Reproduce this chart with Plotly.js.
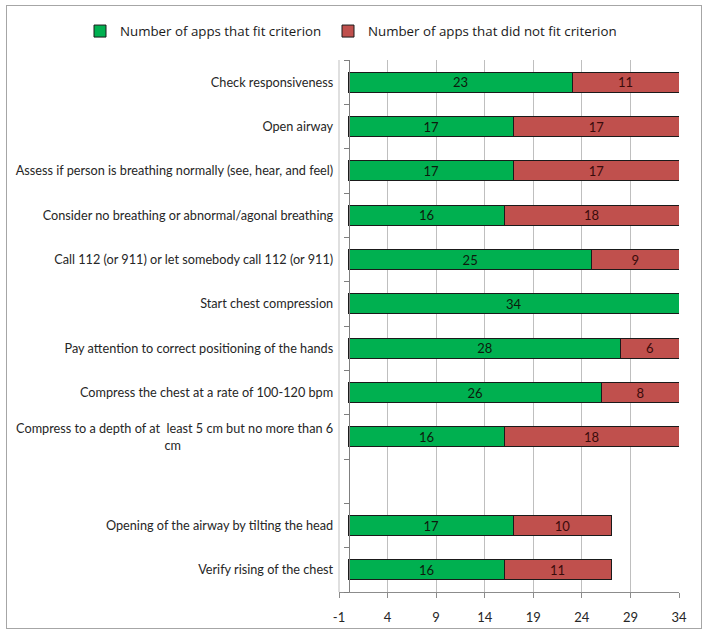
<!DOCTYPE html>
<html>
<head>
<meta charset="utf-8">
<script src="https://cdn.plot.ly/plotly-3.0.1.min.js"></script>
<style>
  html, body { margin: 0; padding: 0; background: #fff; }
  #wrap { position: relative; width: 710px; height: 641px; }
  #chart { width: 710px; height: 641px; }
  #frame { position: absolute; left: 6px; top: 5px; width: 696px; height: 624px;
           border: 1px solid #a6a6a6; pointer-events: none; box-sizing: border-box; }
</style>
</head>
<body>
<div id="wrap">
  <div id="chart"></div>
  <div id="frame"></div>
</div>
<script>
const pad = "\u2002".repeat(24);
const categories = [
  "Check responsiveness",
  "Open airway",
  "Assess if person is breathing normally (see, hear, and feel)",
  "Consider no breathing or abnormal/agonal breathing",
  "Call 112 (or 911) or let somebody call 112 (or 911)",
  "Start chest compression",
  "Pay attention to correct positioning of the hands",
  "Compress the chest at a rate of 100-120 bpm",
  "Compress to a depth of at  least 5 cm but no more than 6<br>cm" + pad,
  " ",
  "Opening of the airway by tilting the head",
  "Verify rising of the chest"
];
const fitValues    = [23, 17, 17, 16, 25, 34, 28, 26, 16, null, 17, 16];
const notFitValues = [11, 17, 17, 18, 9, null, 6, 8, 18, null, 10, 11];
const xTicks = [-1, 4, 9, 14, 19, 24, 29, 34];
const xRange = [-1, 34];
const seriesNames = ["Number of apps that fit criterion", "Number of apps that did not fit criterion"];

const fontFam = "Lato, 'Open Sans', sans-serif";
const legFam = "'Open Sans', Lato, sans-serif";

// category boundaries (for Excel-like ticks between categories)
const n = categories.length;
const boundaries = Array.from({ length: n + 1 }, (_, i) => i - 0.5);
const axisPos = (0 - xRange[0]) / (xRange[1] - xRange[0]);

const traces = [
  {
    type: "bar", orientation: "h", name: seriesNames[0], legend: "legend",
    y: categories, x: fitValues,
    marker: { color: "#00b050", line: { color: "#1a1a1a", width: 1 } },
    text: fitValues.map(v => v == null ? "" : String(v)),
    textposition: "inside", insidetextanchor: "middle", textangle: 0,
    constraintext: "none",
    textfont: { family: fontFam, size: 13, color: "#0d1a0d" }
  },
  {
    type: "bar", orientation: "h", name: seriesNames[1], legend: "legend2",
    y: categories, x: notFitValues,
    marker: { color: "#c0504d", line: { color: "#1a1a1a", width: 1 } },
    text: notFitValues.map(v => v == null ? "" : String(v)),
    textposition: "inside", insidetextanchor: "middle", textangle: 0,
    constraintext: "none",
    textfont: { family: fontFam, size: 13, color: "#3a0b0b" }
  }
];

const legendBase = {
  orientation: "h", xref: "container", yref: "container",
  xanchor: "left", y: 0.951, yanchor: "middle",
  font: { family: legFam, size: 13.3, color: "#1a1a1a" },
  itemwidth: 30, bgcolor: "rgba(0,0,0,0)"
};

const layout = {
  width: 710, height: 641,
  margin: { l: 339, r: 31, t: 60, b: 49, pad: 0 },
  paper_bgcolor: "#ffffff", plot_bgcolor: "#ffffff",
  barmode: "stack",
  bargap: 0.545,
  font: { family: fontFam, size: 13, color: "#262626" },
  showlegend: true,
  legend: Object.assign({}, legendBase, { x: 80 / 710 }),
  legend2: Object.assign({}, legendBase, { x: 328 / 710 }),
  xaxis: {
    range: xRange, tickvals: xTicks, ticktext: xTicks.map(String),
    showgrid: true, gridcolor: "#bfbfbf", gridwidth: 1,
    zeroline: false, showline: true, linecolor: "#8c8c8c", linewidth: 1,
    ticks: "outside", ticklen: 5, tickcolor: "#8c8c8c",
    tickfont: { family: fontFam, size: 13, color: "#262626" },
    ticklabelstandoff: 8,
    fixedrange: true
  },
  yaxis: {
    type: "category", categoryorder: "array", categoryarray: categories,
    range: [n - 0.5, -0.5],
    anchor: "free", position: axisPos,
    showgrid: false, zeroline: false, showline: true, linecolor: "#7f7f7f", linewidth: 1,
    ticks: "",
    tickfont: { family: fontFam, size: 12.7, color: "#262626" },
    ticklabelstandoff: 13,
    fixedrange: true
  },
  yaxis2: {
    overlaying: "y", anchor: "free", position: axisPos, side: "left",
    range: [n - 0.5, -0.5],
    tickvals: boundaries, showticklabels: false,
    ticks: "outside", ticklen: 5, tickcolor: "#7f7f7f", tickwidth: 1,
    showgrid: false, zeroline: false, showline: false,
    fixedrange: true
  },
  shapes: [
    // gridline at the left edge of the value range (x = -1)
    { type: "line", xref: "paper", yref: "paper", x0: 0, x1: 0, y0: 0, y1: 1,
      line: { color: "#bfbfbf", width: 1 }, layer: "above" }
  ]
};

// invisible helper trace to activate the tick-only overlay axis
traces.push({ type: "scatter", x: [null], y: [null], yaxis: "y2", showlegend: false, hoverinfo: "skip" });

Plotly.newPlot("chart", traces, layout, { displayModeBar: false, staticPlot: true });
</script>
</body>
</html>
